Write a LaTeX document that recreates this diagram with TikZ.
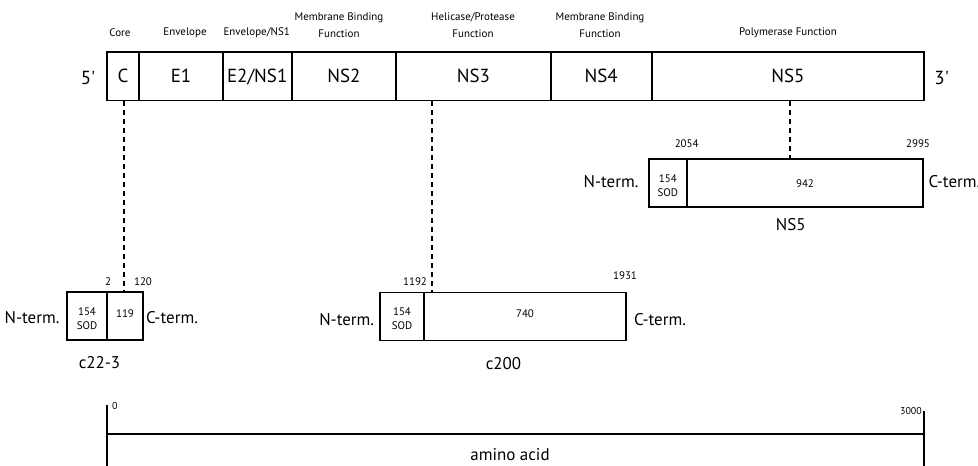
\documentclass[tikz,border=0pt]{standalone}
\usepackage{fontspec}
\setmainfont{PT Sans}
\newfontfamily\qfont{PT Sans}
\begin{document}
\begin{tikzpicture}[x=1bp,y=-1bp,
  seg/.style={draw, line width=1.8bp, inner sep=0pt, minimum height=48.5bp, font=\fontsize{19}{19}\selectfont, text depth=0pt},
  cell/.style={draw, line width=1.8bp, inner sep=0pt, minimum height=48bp},
  celltxt/.style={font=\fontsize{11}{14}\selectfont, align=center, inner sep=0pt},
  hdr/.style={font=\fontsize{11}{16.5}\selectfont, align=center, inner sep=0pt},
  lbl/.style={font=\fontsize{17}{17}\selectfont, inner sep=0pt},
  num/.style={font=\fontsize{11}{11}\selectfont, inner sep=0pt},
  dashline/.style={line width=1.8bp, dash pattern=on 5bp off 4bp},
  scaleline/.style={line width=1.8bp}]
\useasboundingbox (0,0) rectangle (978,466);
% genome bar
\node[seg, minimum width=32.6bp]  (C)   at (123,76.2)   {C};
\node[seg, minimum width=83.4bp]  (E1)  at (181,76.2)   {E1};
\node[seg, minimum width=69bp]    (E2)  at (257.2,76.2) {E2/NS1};
\node[seg, minimum width=104.3bp] (NS2) at (343.85,76.2){NS2};
\node[seg, minimum width=154.7bp] (NS3) at (473.35,76.2){NS3};
\node[seg, minimum width=101bp]   (NS4) at (601.2,76.2) {NS4};
\node[seg, minimum width=272.6bp] (NS5) at (788,76.2)   {NS5};
\node[lbl, font=\fontsize{19}{19}\qfont] (p5) at (88,78) {5'};
\node[lbl, font=\fontsize{19}{19}\qfont] (p3) at (941.7,78) {3'};
% headers
\node[hdr] (hC)   at (120,33)   {Core};
\node[hdr] (hE1)  at (185,33)   {Envelope};
\node[hdr] (hE2)  at (256.7,33) {Envelope/NS1};
\node[hdr] (hNS2) at (339,25)   {Membrane Binding\\Function};
\node[hdr] (hNS3) at (473,25)   {Helicase/Protease\\Function};
\node[hdr] (hNS4) at (600,25)   {Membrane Binding\\Function};
\node[hdr] (hNS5) at (788,33)   {Polymerase Function};
% NS5 construct
\node[cell, minimum width=37.7bp, label={[celltxt, yshift=-2.5bp]center:{154\\SOD}}] (n5a) at (667.85,183.3) {};
\node[cell, minimum width=236.6bp, label={[celltxt]center:942}] (n5b) at (805,183.3) {};
\node[num] (n5s) at (686.7,144) {2054};
\node[num] (n5e) at (918,144) {2995};
\node[lbl] (n5N) at (611,182) {N-term.};
\node[lbl, anchor=west] (n5C) at (928.3,182) {C-term.};
\node[lbl] (n5L) at (790.7,224.5) {NS5};
% c22-3 construct
\node[cell, minimum width=40.6bp, label={[celltxt, yshift=-2.5bp]center:{154\\SOD}}] (c22a) at (87,316.3) {};
\node[cell, minimum width=35.4bp, label={[celltxt, yshift=2.5bp]center:119}] (c22b) at (125,316.3) {};
\node[num] (c22s) at (108,281.7) {2};
\node[num] (c22e) at (143,281.7) {120};
\node[lbl] (c22N) at (32,318) {N-term.};
\node[lbl] (c22C) at (172,318) {C-term.};
\node[lbl] (c22L) at (99.5,363) {c22-3};
% c200 construct
\node[cell, minimum width=44bp, label={[celltxt, yshift=-2.5bp]center:{154\\SOD}}] (c2a) at (402,316.5) {};
\node[cell, minimum width=202bp, label={[celltxt, yshift=2.5bp]center:740}] (c2b) at (525,316.5) {};
\node[num] (c2s) at (415,281.7) {1192};
\node[num] (c2e) at (625,276) {1931};
\node[lbl] (c2N) at (346.7,320) {N-term.};
\node[lbl] (c2C) at (660,320) {C-term.};
\node[lbl] (c2L) at (503.5,363.5) {c200};
% dashed connectors
\coordinate (m22) at (124,292.3);
\coordinate (m200) at (431.7,292.3);
\coordinate (mNS5) at (790,159.3);
\draw[dashline] (C.south -| m22) -- (m22);
\draw[dashline] (NS3.south -| m200) -- (m200);
\draw[dashline] (NS5.south -| mNS5) -- (mNS5);
% scale bar
\coordinate (s0t) at (107.3,405);
\coordinate (s0b) at (107.3,466);
\coordinate (s1t) at (924,410.7);
\coordinate (s1b) at (924,466);
\coordinate (s0m) at (107.3,434);
\coordinate (s1m) at (924,434);
\draw[scaleline] (s0t) -- (s0b);
\draw[scaleline] (s1t) -- (s1b);
\draw[scaleline] (s0m) -- (s1m);
\node[num, font=\fontsize{10}{10}\selectfont, anchor=west] (z0) at (112,405.7) {0};
\node[num, font=\fontsize{10}{10}\selectfont, anchor=east] (z3) at (922,410.7) {3000};
\node[lbl] (aa) at (510,455) {amino acid};
\end{tikzpicture}
\end{document}
